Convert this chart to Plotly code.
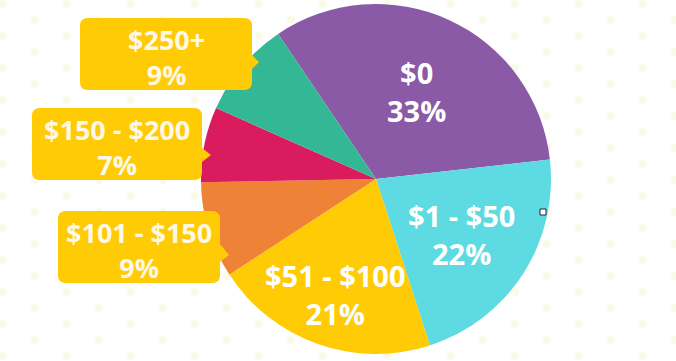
import plotly.graph_objects as go
import base64
import math

W, H = 676, 361

labels = ["$0", "$1 - $50", "$51 - $100", "$101 - $150", "$150 - $200", "$250+"]
values = [33, 22, 21, 9, 7, 9]
colors = ["#8A5AA6", "#5EDAE2", "#FFCB05", "#EE8236", "#DA1C5E", "#34B795"]
inside = [True, True, True, False, False, False]
label_radius = [0.55, 0.58, 0.70, 0, 0, 0]   # radial position of inside labels (fraction of R)

FONT = "Open Sans"
ROTATION = -34
CX, CY, R = 376, 179, 175   # pie centre / radius in pixels

def px(x):
    return x / W

def py(y):
    return 1 - y / H

fig = go.Figure()
fig.add_trace(go.Pie(
    labels=labels,
    values=values,
    marker=dict(colors=colors, line=dict(width=0)),
    sort=False,
    direction="clockwise",
    rotation=ROTATION,
    textinfo="none",
    hoverinfo="label+value",
    showlegend=False,
    domain=dict(x=[px(CX - R), px(CX + R)], y=[py(CY + R), py(CY - R)]),
))

# inside labels placed on each slice's mid-angle
total = sum(values)
cum = 0
for lab, val, f, fr in zip(labels, values, inside, label_radius):
    mid = ROTATION + (cum + val / 2) / total * 360
    cum += val
    if not f:
        continue
    a = math.radians(mid)
    x = CX + fr * R * math.sin(a)
    y = CY - fr * R * math.cos(a)
    fig.add_annotation(x=px(x), y=py(y), xref="paper", yref="paper", showarrow=False,
                       text=f"{lab}<br>{val}%", xanchor="center", yanchor="middle",
                       font=dict(family=FONT, size=29, color="white", weight="bold"))

# background dot pattern (decoration)
dot = "#FAFAE8"
svg = (
    f'<svg xmlns="http://www.w3.org/2000/svg" width="{W}" height="{H}">'
    '<defs><pattern id="p" width="64" height="32" patternUnits="userSpaceOnUse">'
    f'<circle cx="3" cy="4" r="4" fill="{dot}"/>'
    f'<circle cx="35" cy="20" r="4" fill="{dot}"/>'
    f'<circle cx="67" cy="4" r="4" fill="{dot}"/>'
    f'<circle cx="3" cy="36" r="4" fill="{dot}"/>'
    f'<circle cx="67" cy="36" r="4" fill="{dot}"/>'
    '</pattern></defs>'
    f'<rect width="{W}" height="{H}" fill="url(#p)"/></svg>'
)
uri = "data:image/svg+xml;base64," + base64.b64encode(svg.encode()).decode()
fig.add_layout_image(dict(source=uri, xref="paper", yref="paper", x=0, y=1,
                          sizex=1, sizey=1, xanchor="left", yanchor="top",
                          sizing="stretch", layer="below"))

# callout boxes for the small slices: (x0, y0, x1, y1, tip_x, tip_y, pointer y range)
boxes = {
    "$250+": (80, 18, 252, 90, 259, 62, (55, 69)),
    "$150 - $200": (32, 108, 202, 180, 211, 155, (148, 162)),
    "$101 - $150": (58, 211, 220, 283, 229, 255, (244, 262)),
}

def rounded_box(x0, y0, x1, y1, tx, ty, pr, r=8):
    def P(x, y):
        return f"{px(x):.5f},{py(y):.5f}"
    p = f"M {P(x0 + r, y0)} L {P(x1 - r, y0)} Q {P(x1, y0)} {P(x1, y0 + r)} "
    p += f"L {P(x1, pr[0])} L {P(tx, ty)} L {P(x1, pr[1])} "
    p += f"L {P(x1, y1 - r)} Q {P(x1, y1)} {P(x1 - r, y1)} "
    p += f"L {P(x0 + r, y1)} Q {P(x0, y1)} {P(x0, y1 - r)} "
    p += f"L {P(x0, y0 + r)} Q {P(x0, y0)} {P(x0 + r, y0)} Z"
    return p

for lab, val, f in zip(labels, values, inside):
    if f:
        continue
    x0, y0, x1, y1, tx, ty, pr = boxes[lab]
    fig.add_shape(type="path", path=rounded_box(x0, y0, x1, y1, tx, ty, pr),
                  xref="paper", yref="paper", fillcolor="#FFCB05",
                  line=dict(width=0), layer="above")
    fig.add_annotation(x=px((x0 + x1) / 2), y=py((y0 + y1) / 2), yshift=-3,
                       xref="paper", yref="paper", showarrow=False,
                       text=f"{lab}<br>{val}%",
                       font=dict(family=FONT, size=27, color="#FFF8E6", weight="bold"),
                       xanchor="center", yanchor="middle")

# small square marker seen on the right edge
fig.add_shape(type="rect", xref="paper", yref="paper",
              x0=px(540), x1=px(546), y0=py(215), y1=py(209),
              fillcolor="white", line=dict(color="#1E2A3A", width=1))

fig.update_layout(
    width=W, height=H,
    margin=dict(l=0, r=0, t=0, b=0),
    paper_bgcolor="white",
    plot_bgcolor="white",
)

fig.write_html("out.html", config={"displayModeBar": False},
               post_script="document.body.style.margin='0';")
